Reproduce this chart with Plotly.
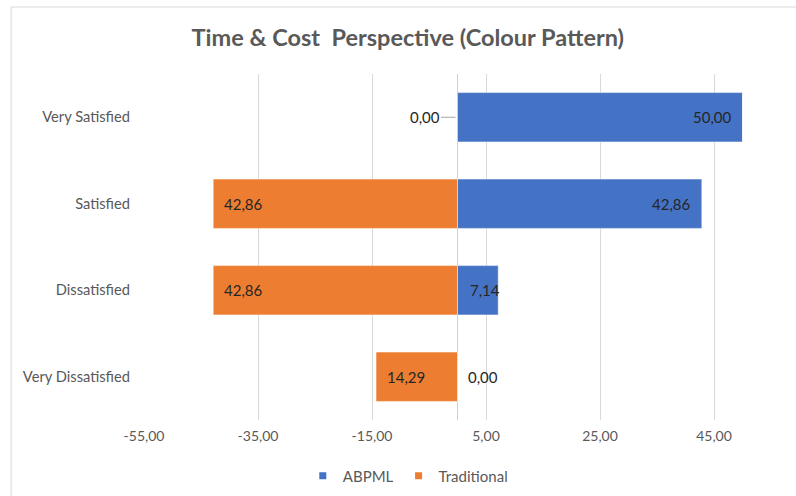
import plotly.graph_objects as go

categories = ["Very Satisfied", "Satisfied", "Dissatisfied", "Very Dissatisfied"]
abpml = [50.00, 42.86, 7.14, 0.00]
traditional = [0.00, -42.86, -42.86, -14.29]
tick_vals = [-55, -35, -15, 5, 25, 45]
tick_text = ["-55,00", "-35,00", "-15,00", "5,00", "25,00", "45,00"]

BLUE = "#4472C4"
ORANGE = "#ED7D31"
GRAY = "#595959"
FONT = "Lato"

def fmt(v):
    return f"{abs(v):.2f}".replace(".", ",")

fig = go.Figure()
fig.add_trace(go.Bar(
    y=categories, x=abpml, orientation="h", name="ABPML", showlegend=False,
    marker=dict(color=BLUE, line=dict(color="rgba(255,255,255,0.6)", width=0.8)),
))
fig.add_trace(go.Bar(
    y=categories, x=traditional, orientation="h", name="Traditional", showlegend=False,
    marker=dict(color=ORANGE, line=dict(color="rgba(255,255,255,0.6)", width=0.8)),
))
# legend entries with small square keys
for name, col in [("ABPML", BLUE), ("Traditional", ORANGE)]:
    fig.add_trace(go.Scatter(x=[None], y=[None], mode="markers", name=name,
                             marker=dict(symbol="square", size=7, color=col)))

LBL = dict(size=15, color="#262626", family=FONT)
annotations = []
for c, v in zip(categories, abpml):
    if v >= 10:
        annotations.append(dict(x=v, y=c, text=fmt(v), xanchor="right", xshift=-9,
                                showarrow=False, font=LBL))
    elif v > 0:
        annotations.append(dict(x=0, y=c, text=fmt(v), xanchor="left", xshift=10,
                                showarrow=False, font=LBL))
    else:
        annotations.append(dict(x=v, y=c, text=fmt(v), xanchor="left", xshift=8,
                                showarrow=False, font=LBL))
for c, v in zip(categories, traditional):
    if v < 0:
        annotations.append(dict(x=v, y=c, text=fmt(v), xanchor="left", xshift=9,
                                showarrow=False, font=LBL))
    else:
        annotations.append(dict(x=v, y=c, text=fmt(v), showarrow=True, ax=-33, ay=0,
                                arrowhead=0, arrowwidth=1, arrowcolor="#a6a6a6", standoff=2,
                                font=LBL))

L, R, T, B = 144, 24.5, 74, 76
pw = 796 - L - R
ph = 496 - T - B

fig.update_layout(
    width=796, height=496,
    margin=dict(l=L, r=R, t=T, b=B, autoexpand=False),
    paper_bgcolor="white", plot_bgcolor="white",
    barmode="relative", bargap=0.43,
    separators=", ",
    title=dict(text="Time &amp; Cost\u00a0 Perspective (Colour Pattern)", x=(408 - L) / pw, xref="paper",
               xanchor="center", y=1 - 38 / 496, yanchor="middle",
               font=dict(family=FONT, size=23.5, color=GRAY, weight="bold")),
    font=dict(family=FONT, color=GRAY, size=14),
    xaxis=dict(range=[-55, 55], tickvals=tick_vals, ticktext=tick_text,
               showgrid=True, gridcolor="#d9d9d9", gridwidth=1,
               zeroline=True, zerolinecolor="#d0d0d0", zerolinewidth=1,
               showline=False, ticks="", ticklabelstandoff=6,
               tickfont=dict(size=14, color=GRAY, family=FONT), fixedrange=True),
    yaxis=dict(categoryorder="array", categoryarray=categories, autorange="reversed",
               showgrid=False, zeroline=False, showline=False, ticks="",
               ticklabelstandoff=13,
               tickfont=dict(size=14.7, color=GRAY, family=FONT)),
    legend=dict(orientation="h", x=(408 - L) / pw, xanchor="center",
                y=(420 - 476) / ph, yanchor="middle", itemwidth=30,
                font=dict(size=15, color=GRAY, family=FONT), traceorder="normal"),
    annotations=annotations,
    shapes=[
        dict(type="line", xref="paper", yref="paper", x0=(11 - L) / pw, x1=(11 - L) / pw,
             y0=(420 - 7) / ph, y1=(420 - 500) / ph, line=dict(color="#d9d9d9", width=1)),
        dict(type="line", xref="paper", yref="paper", x0=(11 - L) / pw, x1=(800 - L) / pw,
             y0=(420 - 7) / ph, y1=(420 - 7) / ph, line=dict(color="#d9d9d9", width=1)),
    ],
)

fig.write_html("out.html")
